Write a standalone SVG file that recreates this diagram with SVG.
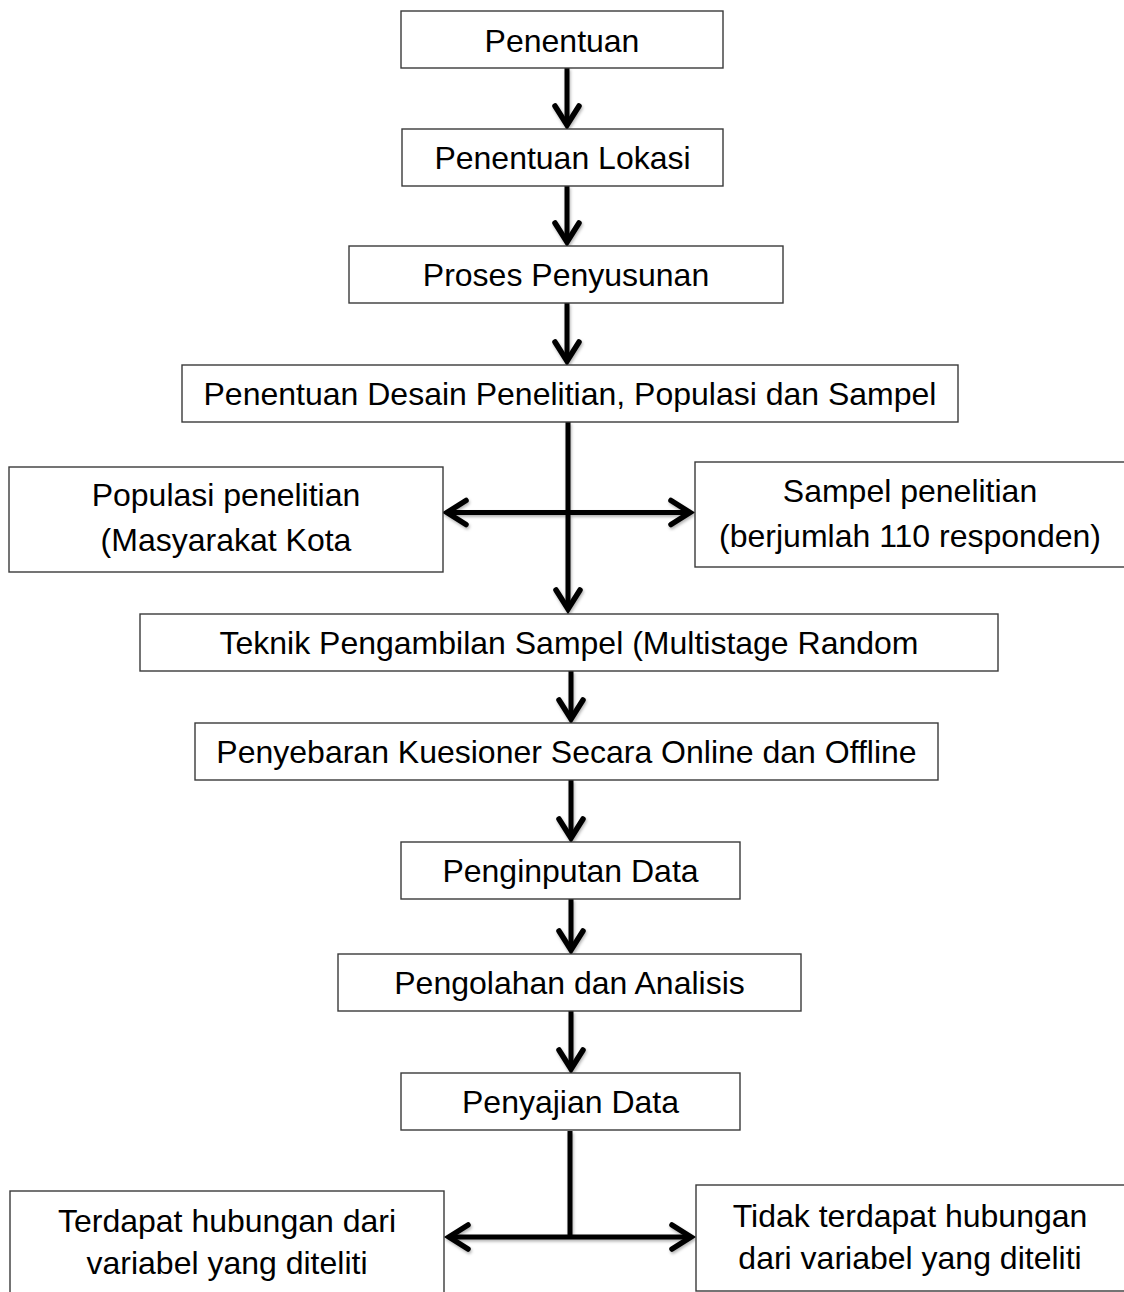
<svg xmlns="http://www.w3.org/2000/svg" width="1124" height="1292" viewBox="0 0 1124 1292">
<style>
.box{fill:#fff;stroke:#3a3a3a;stroke-width:1.4}
.t{font-family:"Liberation Sans",Arial,sans-serif;font-size:32px;fill:#000;text-anchor:middle}
.ln{fill:none;stroke:#000;stroke-width:5}
.hd{fill:none;stroke:#000;stroke-width:5.5;stroke-linejoin:miter;stroke-linecap:round}
</style>
<defs>
<filter id="sh" x="-20%" y="-20%" width="140%" height="140%">
<feDropShadow dx="1" dy="2" stdDeviation="1.5" flood-color="#000" flood-opacity="0.3"/>
</filter>
</defs>
<rect width="1124" height="1292" fill="#fff"/>
<g id="connectors" filter="url(#sh)">
<line class="ln" x1="567" y1="68" x2="567" y2="125"/>
<path class="hd" d="M555,106 L567,125 L579,106"/>
<line class="ln" x1="567" y1="186" x2="567" y2="242"/>
<path class="hd" d="M555,223 L567,242 L579,223"/>
<line class="ln" x1="567" y1="303" x2="567" y2="361"/>
<path class="hd" d="M555,342 L567,361 L579,342"/>
<line class="ln" x1="568" y1="422" x2="568" y2="609"/>
<path class="hd" d="M556,590 L568,609 L580,590"/>
<line class="ln" x1="447" y1="512.5" x2="690" y2="512.5"/>
<path class="hd" d="M466,500.5 L447,512.5 L466,524.5"/>
<path class="hd" d="M671,500.5 L690,512.5 L671,524.5"/>
<line class="ln" x1="571" y1="671" x2="571" y2="719"/>
<path class="hd" d="M559,700 L571,719 L583,700"/>
<line class="ln" x1="571" y1="780" x2="571" y2="838"/>
<path class="hd" d="M559,819 L571,838 L583,819"/>
<line class="ln" x1="571" y1="899" x2="571" y2="950"/>
<path class="hd" d="M559,931 L571,950 L583,931"/>
<line class="ln" x1="571" y1="1011" x2="571" y2="1069"/>
<path class="hd" d="M559,1050 L571,1069 L583,1050"/>
<line class="ln" x1="570" y1="1131" x2="570" y2="1237"/>
<line class="ln" x1="449" y1="1237" x2="691" y2="1237"/>
<path class="hd" d="M468,1225 L449,1237 L468,1249"/>
<path class="hd" d="M672,1225 L691,1237 L672,1249"/>
</g>
<g id="n1"><rect class="box" x="401" y="11" width="322" height="57"/><text class="t" x="562" y="52">Penentuan</text></g>
<g id="n2"><rect class="box" x="402" y="129" width="321" height="57"/><text class="t" x="562.5" y="169">Penentuan Lokasi</text></g>
<g id="n3"><rect class="box" x="349" y="246" width="434" height="57"/><text class="t" x="566" y="286">Proses Penyusunan</text></g>
<g id="n4"><rect class="box" x="182" y="365" width="776" height="57"/><text class="t" x="570" y="405">Penentuan Desain Penelitian, Populasi dan Sampel</text></g>
<g id="n5"><rect class="box" x="9" y="467" width="434" height="105"/><text class="t" x="226" y="506">Populasi penelitian</text><text class="t" x="226" y="551">(Masyarakat Kota</text></g>
<g id="n6"><rect class="box" x="695" y="462" width="440" height="105"/><text class="t" x="910" y="502">Sampel penelitian</text><text class="t" x="910" y="547">(berjumlah 110 responden)</text></g>
<g id="n7"><rect class="box" x="140" y="614" width="858" height="57"/><text class="t" x="569" y="654">Teknik Pengambilan Sampel (Multistage Random</text></g>
<g id="n8"><rect class="box" x="195" y="723" width="743" height="57"/><text class="t" x="566.5" y="763">Penyebaran Kuesioner Secara Online dan Offline</text></g>
<g id="n9"><rect class="box" x="401" y="842" width="339" height="57"/><text class="t" x="570.5" y="882">Penginputan Data</text></g>
<g id="n10"><rect class="box" x="338" y="954" width="463" height="57"/><text class="t" x="569.5" y="994">Pengolahan dan Analisis</text></g>
<g id="n11"><rect class="box" x="401" y="1073" width="339" height="57"/><text class="t" x="570.5" y="1113">Penyajian Data</text></g>
<g id="n12"><rect class="box" x="10" y="1191" width="434" height="120"/><text class="t" x="227" y="1232">Terdapat hubungan dari</text><text class="t" x="227" y="1274">variabel yang diteliti</text></g>
<g id="n13"><rect class="box" x="696" y="1185" width="440" height="106"/><text class="t" x="910" y="1227">Tidak terdapat hubungan</text><text class="t" x="910" y="1269">dari variabel yang diteliti</text></g>
</svg>
